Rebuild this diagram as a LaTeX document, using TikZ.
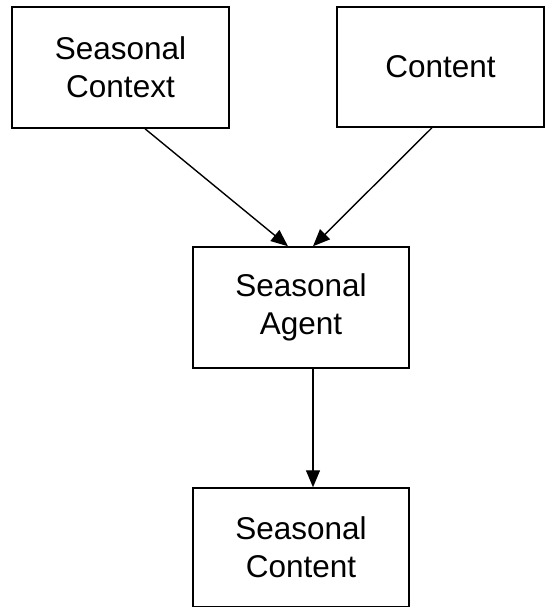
\documentclass[tikz,border=0pt]{standalone}
\usepackage{fontspec}
\setmainfont{Liberation Sans}
\usetikzlibrary{arrows.meta}
\begin{document}
\begin{tikzpicture}[x=1pt,y=-1pt,
  box/.style={draw=black,line width=1.5pt,fill=white,align=center,inner sep=0pt,
    font=\fontsize{31.5}{38}\selectfont},
  conn/.style={draw=black,line width=1.4pt,-{Triangle[length=17pt,width=14pt]}}]
\useasboundingbox[fill=white] (0,0) rectangle (545,608);
\node[box,minimum width=217pt,minimum height=121pt] (ctx) at (120.5,67.5) {Seasonal\\Context};
\node[box,minimum width=207pt,minimum height=120pt] (cnt) at (440.5,67) {Content};
\node[box,minimum width=216pt,minimum height=121pt] (agent) at (301,307.5) {Seasonal\\Agent};
\node[box,minimum width=216pt,minimum height=118.5pt] (sc) at (301,547.25) {Seasonal\\Content};
\draw[conn] ([xshift=24.5pt]ctx.south) -- ([xshift=-13pt]agent.north);
\draw[conn] ([xshift=-8.5pt]cnt.south) -- ([xshift=12pt]agent.north);
\draw[conn] ([xshift=12pt]agent.south) -- ([xshift=12pt]sc.north);
\end{tikzpicture}
\end{document}
